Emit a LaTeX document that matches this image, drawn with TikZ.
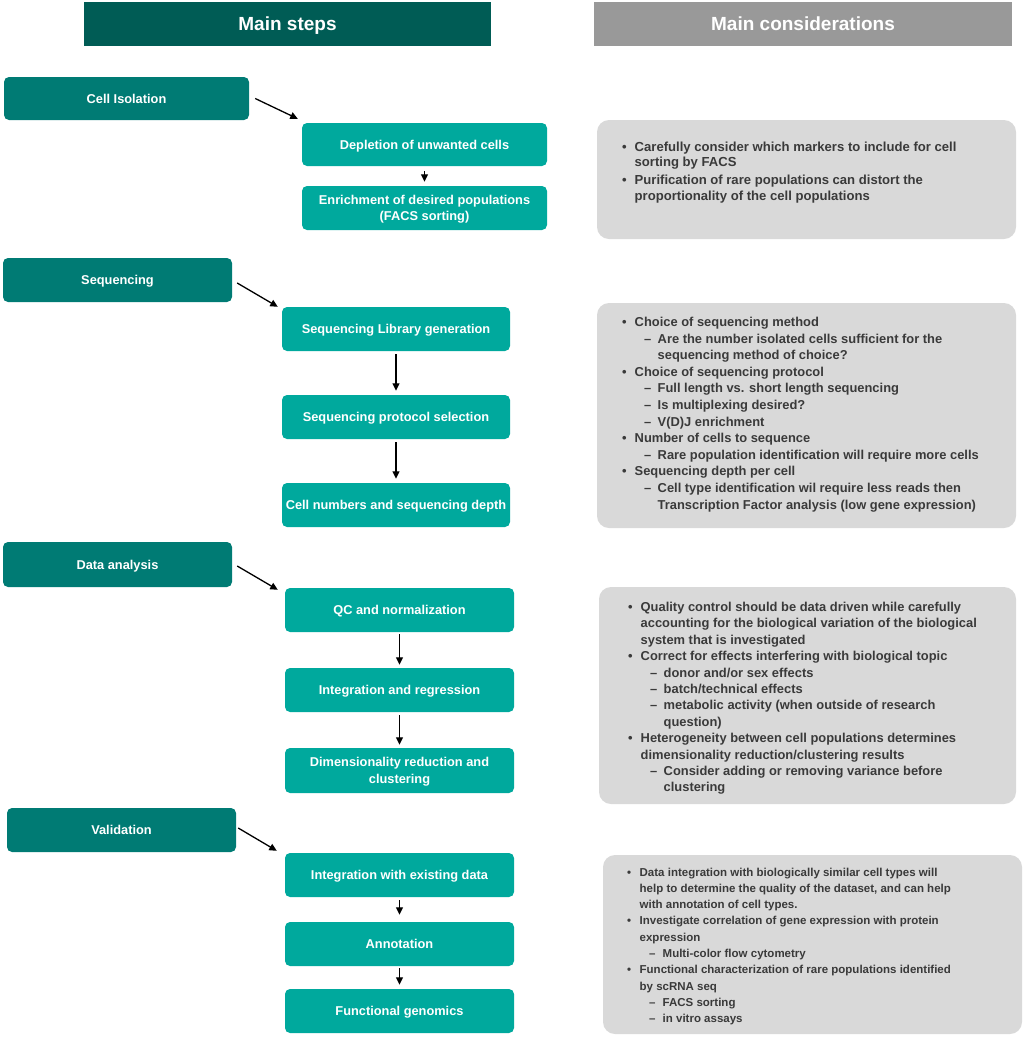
\documentclass[tikz,border=0pt]{standalone}
\usepackage{fontspec}
\setmainfont{Liberation Sans}
\usetikzlibrary{arrows.meta}
\definecolor{hdrteal}{HTML}{005C55}
\definecolor{hdrgray}{HTML}{999999}
\definecolor{mainteal}{HTML}{007B74}
\definecolor{subteal}{HTML}{00A99D}
\definecolor{boxgray}{HTML}{D9D9D9}
\definecolor{txtgray}{HTML}{3A3A3A}
\newcommand{\Bu}{\makebox[12.5pt][l]{•}}
\newcommand{\Co}{\hspace*{12.5pt}}
\newcommand{\Da}{\hspace*{22pt}\makebox[13.5pt][l]{–}}
\newcommand{\Dc}{\hspace*{35.5pt}}
\tikzset{
  hdrbox/.style={inner sep=0pt, text=white, text depth=0pt, font=\bfseries\fontsize{19}{22}\selectfont},
  mainbox/.style={fill=mainteal, rounded corners=5pt, inner sep=0pt, text=white, align=center,
    text depth=0pt, font=\bfseries\fontsize{12.8}{16.5}\selectfont},
  subbox/.style={fill=subteal, rounded corners=5pt, inner sep=0pt, text=white, align=center,
    text depth=0pt, font=\bfseries\fontsize{12.8}{16.5}\selectfont},
  graybox/.style={fill=boxgray, rounded corners=12pt, inner sep=0pt},
  notes/.style={anchor=base west, inner sep=0pt, text=txtgray},
  arr/.style={line width=1.3pt, -{Triangle[length=7.5pt,width=7pt]}}
}
\begin{document}
\begin{tikzpicture}[x=1pt,y=-1pt]
\useasboundingbox (0,0) rectangle (1024,1037);
% headers
\node[hdrbox, fill=hdrteal, minimum width=407pt, minimum height=44pt] (h1) at (287.5,24) {Main steps};
\node[hdrbox, fill=hdrgray, minimum width=418pt, minimum height=44pt] (h2) at (803,24) {Main considerations};
% gray boxes
\node[graybox, minimum width=419pt, minimum height=119pt] (g1) at (806.5,179.5) {};
\node[graybox, minimum width=419pt, minimum height=225pt] (g2) at (806.5,415.5) {};
\node[graybox, minimum width=417pt, minimum height=217pt] (g3) at (807.5,695.5) {};
\node[graybox, minimum width=419pt, minimum height=179pt] (g4) at (812.5,944.5) {};
% section 1
\node[mainbox, minimum width=245pt, minimum height=43pt] (ci) at (126.5,98.5) {Cell Isolation};
\node[subbox, minimum width=245pt, minimum height=43pt] (dep) at (424.5,144.5) {Depletion of unwanted cells};
\node[subbox, minimum width=245pt, minimum height=44pt] (enr) at (424.5,208) {Enrichment of desired populations\\(FACS sorting)};
\draw[arr] ([xshift=6pt]ci.east) -- ([xshift=-4pt,yshift=4pt]dep.north west);
\draw[arr] ([yshift=-5pt]dep.south) -- ([yshift=4pt]enr.north);
% section 2
\node[mainbox, minimum width=229pt, minimum height=44pt] (seq) at (117.5,280) {Sequencing};
\node[subbox, minimum width=228pt, minimum height=44pt] (lib) at (396,329) {Sequencing Library generation};
\node[subbox, minimum width=228pt, minimum height=44pt] (prot) at (396,417) {Sequencing protocol selection};
\node[subbox, minimum width=228pt, minimum height=44pt] (cnum) at (396,505) {Cell numbers and sequencing depth};
\draw[arr] ([xshift=5pt,yshift=-3pt]seq.east) -- ([xshift=-4pt]lib.north west);
\draw[arr] ([yshift=-3pt]lib.south) -- ([yshift=4pt]prot.north);
\draw[arr] ([yshift=-3pt]prot.south) -- ([yshift=4pt]cnum.north);
% section 3
\node[mainbox, minimum width=229pt, minimum height=45pt] (da) at (117.5,564.5) {Data analysis};
\node[subbox, minimum width=229pt, minimum height=44pt] (qc) at (399.5,610) {QC and normalization};
\node[subbox, minimum width=229pt, minimum height=44pt] (ir) at (399.5,690) {Integration and regression};
\node[subbox, minimum width=229pt, minimum height=45pt] (dim) at (399.5,770.5) {Dimensionality reduction and\\clustering};
\draw[arr] ([xshift=5pt,yshift=-1.5pt]da.east) -- ([xshift=-7pt,yshift=-2pt]qc.north west);
\draw[arr] ([yshift=-2pt]qc.south) -- ([yshift=3pt]ir.north);
\draw[arr] ([yshift=-3pt]ir.south) -- ([yshift=3pt]dim.north);
% section 4
\node[mainbox, minimum width=229pt, minimum height=44pt] (val) at (121.5,830) {Validation};
\node[subbox, minimum width=229pt, minimum height=44pt] (iwe) at (399.5,875) {Integration with existing data};
\node[subbox, minimum width=229pt, minimum height=44pt] (ann) at (399.5,944) {Annotation};
\node[subbox, minimum width=229pt, minimum height=44pt] (fg) at (399.5,1011) {Functional genomics};
\draw[arr] ([xshift=2pt,yshift=2pt]val.east) -- ([xshift=-8pt,yshift=2pt]iwe.north west);
\draw[arr] ([yshift=-3pt]iwe.south) -- ([yshift=7pt]ann.north);
\draw[arr] ([yshift=-2pt]ann.south) -- ([yshift=4pt]fg.north);
% notes
\node[notes, font=\bfseries\fontsize{13.1}{15.2}\selectfont] (t1) at (622,151.5) {\parbox[t]{390pt}{\raggedright
\Bu Carefully consider which markers to include for cell\\
\Co sorting by FACS\\[3pt]
\Bu Purification of rare populations can distort the\\
\Co proportionality of the cell populations}};
\node[notes, font=\bfseries\fontsize{12.9}{16.6}\selectfont] (t2) at (622,326.5) {\parbox[t]{390pt}{\raggedright
\Bu Choice of sequencing method\\
\Da Are the number isolated cells sufficient for the\\
\Dc sequencing method of choice?\\
\Bu Choice of sequencing protocol\\
\Da Full length vs. short length sequencing\\
\Da Is multiplexing desired?\\
\Da V(D)J enrichment\\
\Bu Number of cells to sequence\\
\Da Rare population identification will require more cells\\
\Bu Sequencing depth per cell\\
\Da Cell type identification wil require less reads then\\
\Dc Transcription Factor analysis (low gene expression)}};
\node[notes, font=\bfseries\fontsize{12.9}{16.4}\selectfont] (t3) at (628,611.5) {\parbox[t]{390pt}{\raggedright
\Bu Quality control should be data driven while carefully\\
\Co accounting for the biological variation of the biological\\
\Co system that is investigated\\
\Bu Correct for effects interfering with biological topic\\
\Da donor and/or sex effects\\
\Da batch/technical effects\\
\Da metabolic activity (when outside of research\\
\Dc question)\\
\Bu Heterogeneity between cell populations determines\\
\Co dimensionality reduction/clustering results\\
\Da Consider adding or removing variance before\\
\Dc clustering}};
\node[notes, font=\bfseries\fontsize{11.5}{16.3}\selectfont] (t4) at (627,876) {\parbox[t]{390pt}{\raggedright
\Bu Data integration with biologically similar cell types will\\
\Co help to determine the quality of the dataset, and can help\\
\Co with annotation of cell types.\\
\Bu Investigate correlation of gene expression with protein\\
\Co expression\\
\Da Multi-color flow cytometry\\
\Bu Functional characterization of rare populations identified\\
\Co by scRNA seq\\
\Da FACS sorting\\
\Da in vitro assays}};
\end{tikzpicture}
\end{document}
